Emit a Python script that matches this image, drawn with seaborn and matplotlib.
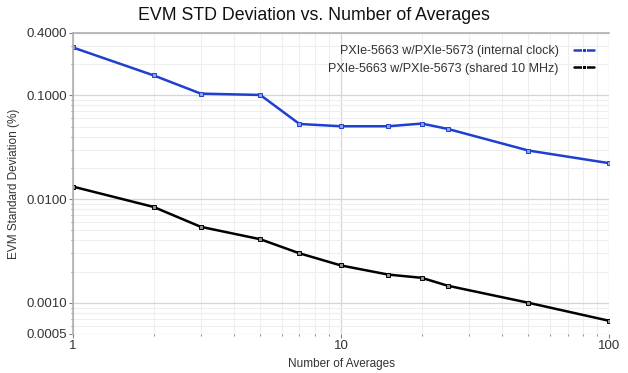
import matplotlib as mpl
mpl.use('Agg')
import matplotlib.pyplot as plt
import matplotlib.ticker as mticker
import seaborn as sns
import pandas as pd

# number of averages (x) and EVM std deviation in % for both setups
averages = [1, 2, 3, 5, 7, 10, 15, 20, 25, 50, 100]
internal_clock = [0.29, 0.156, 0.104, 0.101, 0.053, 0.0504, 0.0504, 0.0535, 0.0475, 0.0294, 0.0222]
shared_10mhz = [0.0132, 0.0084, 0.0054, 0.0041, 0.0030, 0.00229, 0.00187, 0.00174, 0.00146, 0.00100, 0.00067]

series_names = ['PXIe-5663 w/PXIe-5673 (internal clock)',
                'PXIe-5663 w/PXIe-5673 (shared 10 MHz)']
y_ticks = [0.0005, 0.001, 0.01, 0.1, 0.4]
x_ticks = [1, 10, 100]

rows = []
for name, vals in zip(series_names, [internal_clock, shared_10mhz]):
  for a, v in zip(averages, vals):
    rows.append({'averages': a, 'std': v, 'setup': name})
df = pd.DataFrame(rows)

sns.set_theme(style='white')
plt.rcParams['font.family'] = ['Liberation Sans', 'DejaVu Sans']

fig = plt.figure(figsize=(6.28, 3.73), dpi=100)
ax = fig.add_axes([0.116, 0.1046, 0.854, 0.807])

colors = ['#1f3fd0', '#000000']
face = ['#8aa0f0', '#909090']
palette = dict(zip(series_names, colors))
sns.lineplot(data=df, x='averages', y='std', hue='setup', palette=palette,
             marker='s', markersize=3.5, markeredgewidth=0.7,
             linewidth=1.8, ax=ax, legend=True)

for line, c, f in zip(ax.lines[:2], colors, face):
  line.set_markeredgecolor(c)
  line.set_markerfacecolor(f)

ax.set_xscale('log')
ax.set_yscale('log')
ax.set_xlim(1, 100)
ax.set_ylim(0.0005, 0.4)

ax.yaxis.set_major_locator(mticker.FixedLocator(y_ticks))
ax.yaxis.set_major_formatter(mticker.FuncFormatter(lambda v, p: '%.4f' % v))
ax.yaxis.set_minor_locator(mticker.LogLocator(base=10, subs=range(2, 10)))
ax.yaxis.set_minor_formatter(mticker.NullFormatter())
ax.xaxis.set_major_locator(mticker.FixedLocator(x_ticks))
ax.xaxis.set_major_formatter(mticker.FuncFormatter(lambda v, p: '%d' % v))
ax.xaxis.set_minor_locator(mticker.LogLocator(base=10, subs=range(2, 10)))
ax.xaxis.set_minor_formatter(mticker.NullFormatter())

ax.grid(True, which='major', color='#d6d6d6', linewidth=0.9)
ax.grid(True, which='minor', color='#eeeeee', linewidth=0.8)
ax.set_axisbelow(True)

for s in ['right', 'bottom']:
  ax.spines[s].set_visible(False)
for s in ['top', 'left']:
  ax.spines[s].set_color('#b0b0b0')
  ax.spines[s].set_linewidth(1.2)

ax.tick_params(axis='both', which='major', direction='out', length=3, width=0.8,
               color='#808080', labelsize=9.5, labelcolor='#333333', pad=1, left=True, bottom=True)
ax.tick_params(axis='both', which='minor', direction='out', length=1.5, width=0.8,
               color='#909090', left=True, bottom=True)

ax.set_xlabel('Number of Averages', fontsize=8.5, color='#333333', labelpad=5)
ax.set_ylabel('EVM Standard Deviation (%)', fontsize=8.5, color='#333333', labelpad=5)
fig.suptitle('EVM STD Deviation vs. Number of Averages', fontsize=12.8, y=0.98, color='#111111')

leg = ax.legend(loc='upper right', bbox_to_anchor=(0.985, 0.985), frameon=False,
                markerfirst=False, fontsize=9, handlelength=1.6, labelspacing=0.45,
                handletextpad=1.2, borderaxespad=0.2)
for t in leg.get_texts():
  t.set_color('#333333')

fig.savefig('out.png', dpi=100)
